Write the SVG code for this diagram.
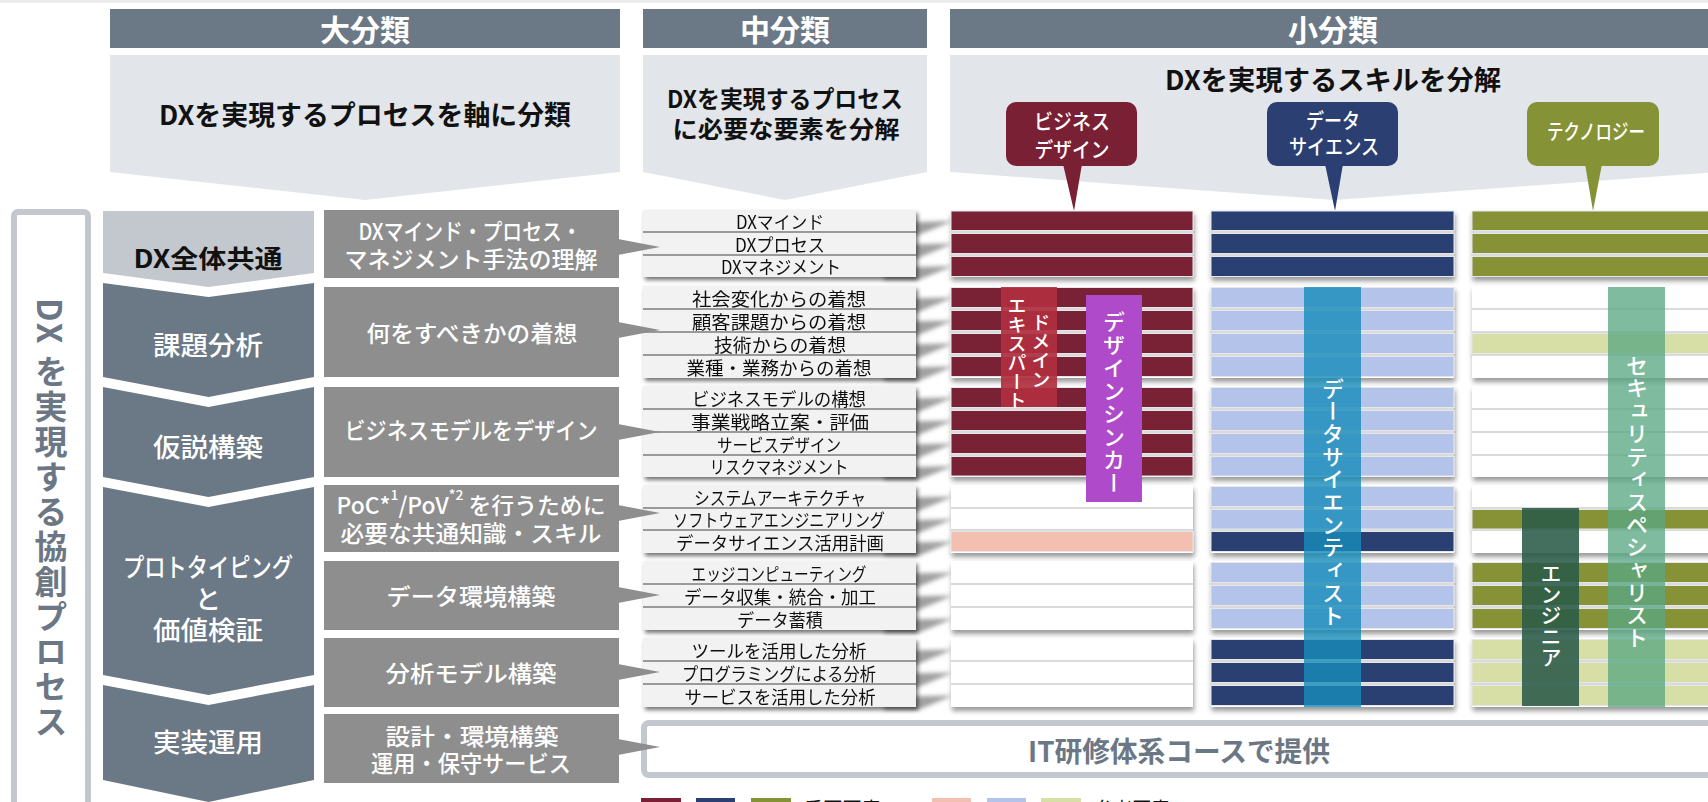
<svg xmlns="http://www.w3.org/2000/svg" width="1708" height="802" viewBox="0 0 1708 802">
<defs>
<style>
text{font-family:"Noto Sans CJK JP","Noto Sans",sans-serif;}
.hd{fill:#6B7886}
.bd{fill:#E2E5E9}
.hdt{font-size:30px;font-weight:bold;fill:#fff;text-anchor:middle;dominant-baseline:central}
.bt{font-size:27px;font-weight:bold;fill:#111;text-anchor:middle;dominant-baseline:central}
.chev{fill:#6B7885}
.lt{font-size:26px;font-weight:500;fill:#fff;text-anchor:middle;dominant-baseline:central}
.mb{fill:#8E8E8E}
.mt{font-size:23px;font-weight:500;fill:#fff;text-anchor:middle;dominant-baseline:central}
.row{fill:#F2F2F2}
.sep{stroke:#9A9A9A;stroke-width:2}
.rt{font-size:18px;fill:#111;text-anchor:middle;dominant-baseline:central}
.gsep{stroke:#B5B5B5;stroke-width:1.2}
.cell{stroke:#E4E6EA;stroke-width:1}
.d1{fill:#7A2035}.l1{fill:#F2BFB0}
.d2{fill:#2B3F72}.l2{fill:#B3C3EA}
.d3{fill:#869236}.l3{fill:#D8DFA6}
.ct{font-size:21px;font-weight:500;fill:#fff;text-anchor:middle;dominant-baseline:central}
.vt{writing-mode:vertical-rl;font-size:22px;font-weight:500;fill:#fff;text-anchor:middle}
.wd{fill:#606060;opacity:.6}
.ptr{fill:#8E8E8E}
</style>
<filter id="shM" x="-5%" y="-10%" width="115%" height="130%"><feDropShadow dx="2" dy="3" stdDeviation="2" flood-color="#000" flood-opacity="0.55"/></filter>
<filter id="shR" x="-5%" y="-10%" width="115%" height="130%"><feDropShadow dx="1" dy="4" stdDeviation="2.5" flood-color="#000" flood-opacity="0.4"/></filter>
<filter id="blur" x="-20%" y="-20%" width="140%" height="140%"><feGaussianBlur stdDeviation="2"/></filter>
</defs>
<rect width="1708" height="802" fill="#fff"/>
<rect width="1708" height="3" fill="#ECECEC"/>

<!-- headers -->
<g id="hdr-dai"><rect class="hd" x="110" y="9" width="510" height="39"/><text class="hdt" x="365" y="28">大分類</text></g>
<g id="hdr-chu"><rect class="hd" x="643" y="9" width="284" height="39"/><text class="hdt" x="785" y="28">中分類</text></g>
<g id="hdr-sho"><rect class="hd" x="950" y="9" width="770" height="39"/><text class="hdt" x="1333" y="28">小分類</text></g>

<g id="body-dai"><path class="bd" d="M110,55 H620 V172 L365,200 L110,172 Z"/><text class="bt" x="365" y="113" textLength="412" lengthAdjust="spacingAndGlyphs">DXを実現するプロセスを軸に分類</text></g>
<g id="body-chu"><path class="bd" d="M643,55 H927 V172 L785,200 L643,172 Z"/><text class="bt" x="785" y="97" style="font-size:24px" textLength="236" lengthAdjust="spacingAndGlyphs">DXを実現するプロセス</text><text class="bt" x="786" y="127" style="font-size:24px" textLength="227" lengthAdjust="spacingAndGlyphs">に必要な要素を分解</text></g>
<g id="body-sho"><path class="bd" d="M950,55 H1720 V172 L1335,200 L950,172 Z"/><text class="bt" x="1333" y="78" textLength="336" lengthAdjust="spacingAndGlyphs">DXを実現するスキルを分解</text></g>

<!-- callouts -->
<g id="callout-bd"><rect x="1006" y="102" width="131" height="64" rx="10" fill="#7A2035"/><polygon points="1063,164 1082,164 1074,211" fill="#7A2035"/><text class="ct" x="1072" y="120" textLength="76" lengthAdjust="spacingAndGlyphs">ビジネス</text><text class="ct" x="1072" y="148" textLength="75" lengthAdjust="spacingAndGlyphs">デザイン</text></g>
<g id="callout-ds"><rect x="1267" y="102" width="131" height="64" rx="10" fill="#2B3F72"/><polygon points="1325,164 1343,164 1335,211" fill="#2B3F72"/><text class="ct" x="1333" y="119" textLength="54" lengthAdjust="spacingAndGlyphs">データ</text><text class="ct" x="1334" y="145" textLength="90" lengthAdjust="spacingAndGlyphs">サイエンス</text></g>
<g id="callout-tech"><rect x="1527" y="102" width="132" height="64" rx="10" fill="#869236"/><polygon points="1585,164 1602,164 1593,211" fill="#869236"/><text class="ct" x="1596" y="130" textLength="98" lengthAdjust="spacingAndGlyphs">テクノロジー</text></g>

<!-- left vertical box -->
<g id="process-label"><rect x="14" y="212" width="74" height="600" rx="4" fill="#fff" stroke="#C3C7CE" stroke-width="6"/><text x="51" y="298" style="writing-mode:vertical-rl;font-size:33px;font-weight:bold;fill:#6B7784;letter-spacing:2px">DX を実現する協創プロセス</text></g>

<!-- chevrons -->
<g id="dai-common"><path d="M103,211 H314 V273 L208.5,287 L103,273 Z" fill="#C3C8CF"/><text class="lt" x="208" y="257" style="fill:#111;font-weight:bold;font-size:25px" textLength="149" lengthAdjust="spacingAndGlyphs">DX全体共通</text></g>
<g id="dai-kadai"><path class="chev" d="M103,283 L208.5,297 L314,283 V377 L208.5,397 L103,377 Z"/><text class="lt" x="208" y="343" textLength="110" lengthAdjust="spacingAndGlyphs">課題分析</text></g>
<g id="dai-kasetsu"><path class="chev" d="M103,387 L208.5,407 L314,387 V477 L208.5,497 L103,477 Z"/><text class="lt" x="208" y="445" textLength="110" lengthAdjust="spacingAndGlyphs">仮説構築</text></g>
<g id="dai-proto"><path class="chev" d="M103,487 L208.5,507 L314,487 V675 L208.5,695 L103,675 Z"/><text class="lt" x="208" y="565" textLength="170" lengthAdjust="spacingAndGlyphs">プロトタイピング</text><text class="lt" x="208" y="597">と</text><text class="lt" x="208" y="628" textLength="110" lengthAdjust="spacingAndGlyphs">価値検証</text></g>
<g id="dai-jisso"><path class="chev" d="M103,685 L208.5,705 L314,685 V780 L208.5,802 L103,780 Z"/><text class="lt" x="208" y="740" textLength="110" lengthAdjust="spacingAndGlyphs">実装運用</text></g>

<!-- mid boxes -->
<g id="chu-1"><rect class="mb" x="324" y="210" width="295" height="68"/><text class="mt" x="470" y="230" textLength="223" lengthAdjust="spacingAndGlyphs">DXマインド・プロセス・</text><text class="mt" x="471" y="258" textLength="253" lengthAdjust="spacingAndGlyphs">マネジメント手法の理解</text></g>
<g id="chu-2"><rect class="mb" x="324" y="287" width="295" height="90"/><text class="mt" x="472" y="332" textLength="211" lengthAdjust="spacingAndGlyphs">何をすべきかの着想</text></g>
<g id="chu-3"><rect class="mb" x="324" y="387" width="295" height="90"/><text class="mt" x="471" y="429" textLength="253" lengthAdjust="spacingAndGlyphs">ビジネスモデルをデザイン</text></g>
<g id="chu-4"><rect class="mb" x="324" y="485" width="295" height="67"/><text class="mt" x="471" y="504" textLength="269" lengthAdjust="spacingAndGlyphs">PoC*<tspan style="font-size:14px" baseline-shift="super">1</tspan>/PoV<tspan style="font-size:14px" baseline-shift="super">*2</tspan> を行うために</text><text class="mt" x="471" y="532" textLength="261" lengthAdjust="spacingAndGlyphs">必要な共通知識・スキル</text></g>
<g id="chu-5"><rect class="mb" x="324" y="561" width="295" height="69"/><text class="mt" x="471" y="595" textLength="169" lengthAdjust="spacingAndGlyphs">データ環境構築</text></g>
<g id="chu-6"><rect class="mb" x="324" y="638" width="295" height="69"/><text class="mt" x="471" y="672" textLength="171" lengthAdjust="spacingAndGlyphs">分析モデル構築</text></g>
<g id="chu-7"><rect class="mb" x="324" y="714" width="295" height="69"/><text class="mt" x="472" y="735" textLength="173" lengthAdjust="spacingAndGlyphs">設計・環境構築</text><text class="mt" x="471" y="762" textLength="200" lengthAdjust="spacingAndGlyphs">運用・保守サービス</text></g>

<!-- connector wedges (under rows) -->
<g id="connectors">
<g filter="url(#blur)">
<polygon class="wd" points="884,223 953,221 918,235 884,235"/>
<polygon class="wd" points="884,245 953,243.5 918,258 884,258"/>
<polygon class="wd" points="884,268 953,266 918,280 884,280"/>
<polygon class="wd" points="884,299 953,297.5 918,312 884,312"/>
<polygon class="wd" points="884,322 953,320.5 918,335 884,335"/>
<polygon class="wd" points="884,345 953,343.5 918,358 884,358"/>
<polygon class="wd" points="884,368 953,366.5 918,381 884,381"/>
<polygon class="wd" points="884,399 953,397.5 918,412 884,412"/>
<polygon class="wd" points="884,422 953,420.5 918,435 884,435"/>
<polygon class="wd" points="884,445 953,443.5 918,458 884,458"/>
<polygon class="wd" points="884,468 953,466 918,480 884,480"/>
<polygon class="wd" points="884,498 953,496.5 918,511 884,511"/>
<polygon class="wd" points="884,521 953,519 918,533 884,533"/>
<polygon class="wd" points="884,543 953,541.5 918,556 884,556"/>
<polygon class="wd" points="884,574 953,572.5 918,587 884,587"/>
<polygon class="wd" points="884,597 953,595.5 918,610 884,610"/>
<polygon class="wd" points="884,620 953,618.5 918,633 884,633"/>
<polygon class="wd" points="884,651 953,649.5 918,664 884,664"/>
<polygon class="wd" points="884,674 953,672.5 918,687 884,687"/>
<polygon class="wd" points="884,697 953,695.5 918,710 884,710"/>
</g>
</g>

<!-- mid item rows -->
<g id="items-g1" filter="url(#shM)"><rect class="row" x="643" y="210" width="273" height="67"/><line class="sep" x1="643" y1="232" x2="916" y2="232"/><line class="sep" x1="643" y1="255" x2="916" y2="255"/>
<text class="rt" x="780" y="221" textLength="88" lengthAdjust="spacingAndGlyphs">DXマインド</text><text class="rt" x="780" y="243.5" textLength="90" lengthAdjust="spacingAndGlyphs">DXプロセス</text><text class="rt" x="781" y="266" textLength="120" lengthAdjust="spacingAndGlyphs">DXマネジメント</text></g>
<g id="items-g2" filter="url(#shM)"><rect class="row" x="643" y="286" width="273" height="92"/><line class="sep" x1="643" y1="309" x2="916" y2="309"/><line class="sep" x1="643" y1="332" x2="916" y2="332"/><line class="sep" x1="643" y1="355" x2="916" y2="355"/>
<text class="rt" x="779" y="297.5" textLength="174" lengthAdjust="spacingAndGlyphs">社会変化からの着想</text><text class="rt" x="779" y="320.5" textLength="174" lengthAdjust="spacingAndGlyphs">顧客課題からの着想</text><text class="rt" x="780" y="343.5" textLength="132" lengthAdjust="spacingAndGlyphs">技術からの着想</text><text class="rt" x="779" y="366.5" textLength="185" lengthAdjust="spacingAndGlyphs">業種・業務からの着想</text></g>
<g id="items-g3" filter="url(#shM)"><rect class="row" x="643" y="386" width="273" height="91"/><line class="sep" x1="643" y1="409" x2="916" y2="409"/><line class="sep" x1="643" y1="432" x2="916" y2="432"/><line class="sep" x1="643" y1="455" x2="916" y2="455"/>
<text class="rt" x="779" y="397.5" textLength="174" lengthAdjust="spacingAndGlyphs">ビジネスモデルの構想</text><text class="rt" x="780" y="420.5" textLength="178" lengthAdjust="spacingAndGlyphs">事業戦略立案・評価</text><text class="rt" x="779" y="443.5" textLength="124" lengthAdjust="spacingAndGlyphs">サービスデザイン</text><text class="rt" x="779" y="466" textLength="139" lengthAdjust="spacingAndGlyphs">リスクマネジメント</text></g>
<g id="items-g4" filter="url(#shM)"><rect class="row" x="643" y="485" width="273" height="68"/><line class="sep" x1="643" y1="508" x2="916" y2="508"/><line class="sep" x1="643" y1="530" x2="916" y2="530"/>
<text class="rt" x="780" y="496.5" textLength="172" lengthAdjust="spacingAndGlyphs">システムアーキテクチャ</text><text class="rt" x="779" y="519" textLength="212" lengthAdjust="spacingAndGlyphs">ソフトウェアエンジニアリング</text><text class="rt" x="780" y="541.5" textLength="208" lengthAdjust="spacingAndGlyphs">データサイエンス活用計画</text></g>
<g id="items-g5" filter="url(#shM)"><rect class="row" x="643" y="561" width="273" height="69"/><line class="sep" x1="643" y1="584" x2="916" y2="584"/><line class="sep" x1="643" y1="607" x2="916" y2="607"/>
<text class="rt" x="779" y="572.5" textLength="175" lengthAdjust="spacingAndGlyphs">エッジコンピューティング</text><text class="rt" x="780" y="595.5" textLength="192" lengthAdjust="spacingAndGlyphs">データ収集・統合・加工</text><text class="rt" x="780" y="618.5" textLength="86" lengthAdjust="spacingAndGlyphs">データ蓄積</text></g>
<g id="items-g6" filter="url(#shM)"><rect class="row" x="643" y="638" width="273" height="69"/><line class="sep" x1="643" y1="661" x2="916" y2="661"/><line class="sep" x1="643" y1="684" x2="916" y2="684"/>
<text class="rt" x="779" y="649.5" textLength="175" lengthAdjust="spacingAndGlyphs">ツールを活用した分析</text><text class="rt" x="779" y="672.5" textLength="194" lengthAdjust="spacingAndGlyphs">プログラミングによる分析</text><text class="rt" x="780" y="695.5" textLength="191" lengthAdjust="spacingAndGlyphs">サービスを活用した分析</text></g>

<!-- pointers from mid boxes -->
<g id="pointers">
<polygon class="ptr" points="618,239 660,247 618,255"/>
<polygon class="ptr" points="618,322 660,330 618,338"/>
<polygon class="ptr" points="618,424 660,432 618,440"/>
<polygon class="ptr" points="618,505 660,513 618,521"/>
<polygon class="ptr" points="618,587 660,595 618,603"/>
<polygon class="ptr" points="618,664 660,672 618,680"/>
</g>

<!-- skill grid: business design -->
<g id="bd-g1" filter="url(#shR)"><rect x="951" y="210" width="242" height="67" fill="#fff"/><line class="gsep" x1="951" y1="232" x2="1193" y2="232"/><line class="gsep" x1="951" y1="255" x2="1193" y2="255"/>
<rect class="cell d1" x="951" y="211" width="242" height="19.5"/><rect class="cell d1" x="951" y="233.5" width="242" height="20"/><rect class="cell d1" x="951" y="256.5" width="242" height="20"/></g>
<g id="bd-g2" filter="url(#shR)"><rect x="951" y="286" width="242" height="92" fill="#fff"/><line class="gsep" x1="951" y1="309" x2="1193" y2="309"/><line class="gsep" x1="951" y1="332" x2="1193" y2="332"/><line class="gsep" x1="951" y1="355" x2="1193" y2="355"/>
<rect class="cell d1" x="951" y="287.5" width="242" height="20"/><rect class="cell d1" x="951" y="310.5" width="242" height="20"/><rect class="cell d1" x="951" y="333.5" width="242" height="20"/><rect class="cell d1" x="951" y="356.5" width="242" height="20"/></g>
<g id="bd-g3" filter="url(#shR)"><rect x="951" y="386" width="242" height="91" fill="#fff"/><line class="gsep" x1="951" y1="409" x2="1193" y2="409"/><line class="gsep" x1="951" y1="432" x2="1193" y2="432"/><line class="gsep" x1="951" y1="455" x2="1193" y2="455"/>
<rect class="cell d1" x="951" y="387.5" width="242" height="20"/><rect class="cell d1" x="951" y="410.5" width="242" height="20"/><rect class="cell d1" x="951" y="433.5" width="242" height="20"/><rect class="cell d1" x="951" y="456.5" width="242" height="19.5"/></g>
<g id="bd-g4" filter="url(#shR)"><rect x="951" y="485" width="242" height="68" fill="#fff"/><line class="gsep" x1="951" y1="508" x2="1193" y2="508"/><line class="gsep" x1="951" y1="530" x2="1193" y2="530"/>
<rect class="cell l1" x="951" y="531.5" width="242" height="20"/></g>
<g id="bd-g5" filter="url(#shR)"><rect x="951" y="561" width="242" height="69" fill="#fff"/><line class="gsep" x1="951" y1="584" x2="1193" y2="584"/><line class="gsep" x1="951" y1="607" x2="1193" y2="607"/></g>
<g id="bd-g6" filter="url(#shR)"><rect x="951" y="638" width="242" height="69" fill="#fff"/><line class="gsep" x1="951" y1="661" x2="1193" y2="661"/><line class="gsep" x1="951" y1="684" x2="1193" y2="684"/></g>

<!-- data science -->
<g id="ds-g1" filter="url(#shR)"><rect x="1211" y="210" width="243" height="67" fill="#fff"/><line class="gsep" x1="1211" y1="232" x2="1454" y2="232"/><line class="gsep" x1="1211" y1="255" x2="1454" y2="255"/>
<rect class="cell d2" x="1211" y="211" width="243" height="19.5"/><rect class="cell d2" x="1211" y="233.5" width="243" height="20"/><rect class="cell d2" x="1211" y="256.5" width="243" height="20"/></g>
<g id="ds-g2" filter="url(#shR)"><rect x="1211" y="286" width="243" height="92" fill="#fff"/><line class="gsep" x1="1211" y1="309" x2="1454" y2="309"/><line class="gsep" x1="1211" y1="332" x2="1454" y2="332"/><line class="gsep" x1="1211" y1="355" x2="1454" y2="355"/>
<rect class="cell l2" x="1211" y="287.5" width="243" height="20"/><rect class="cell l2" x="1211" y="310.5" width="243" height="20"/><rect class="cell l2" x="1211" y="333.5" width="243" height="20"/><rect class="cell l2" x="1211" y="356.5" width="243" height="20"/></g>
<g id="ds-g3" filter="url(#shR)"><rect x="1211" y="386" width="243" height="91" fill="#fff"/><line class="gsep" x1="1211" y1="409" x2="1454" y2="409"/><line class="gsep" x1="1211" y1="432" x2="1454" y2="432"/><line class="gsep" x1="1211" y1="455" x2="1454" y2="455"/>
<rect class="cell l2" x="1211" y="387.5" width="243" height="20"/><rect class="cell l2" x="1211" y="410.5" width="243" height="20"/><rect class="cell l2" x="1211" y="433.5" width="243" height="20"/><rect class="cell l2" x="1211" y="456.5" width="243" height="19.5"/></g>
<g id="ds-g4" filter="url(#shR)"><rect x="1211" y="485" width="243" height="68" fill="#fff"/><line class="gsep" x1="1211" y1="508" x2="1454" y2="508"/><line class="gsep" x1="1211" y1="530" x2="1454" y2="530"/>
<rect class="cell l2" x="1211" y="486.5" width="243" height="20"/><rect class="cell l2" x="1211" y="509.5" width="243" height="19.5"/><rect class="cell d2" x="1211" y="531.5" width="243" height="20"/></g>
<g id="ds-g5" filter="url(#shR)"><rect x="1211" y="561" width="243" height="69" fill="#fff"/><line class="gsep" x1="1211" y1="584" x2="1454" y2="584"/><line class="gsep" x1="1211" y1="607" x2="1454" y2="607"/>
<rect class="cell l2" x="1211" y="562.5" width="243" height="20"/><rect class="cell l2" x="1211" y="585.5" width="243" height="20"/><rect class="cell l2" x="1211" y="608.5" width="243" height="20"/></g>
<g id="ds-g6" filter="url(#shR)"><rect x="1211" y="638" width="243" height="69" fill="#fff"/><line class="gsep" x1="1211" y1="661" x2="1454" y2="661"/><line class="gsep" x1="1211" y1="684" x2="1454" y2="684"/>
<rect class="cell d2" x="1211" y="639.5" width="243" height="20"/><rect class="cell d2" x="1211" y="662.5" width="243" height="20"/><rect class="cell d2" x="1211" y="685.5" width="243" height="20"/></g>

<!-- technology -->
<g id="te-g1" filter="url(#shR)"><rect x="1472" y="210" width="243" height="67" fill="#fff"/><line class="gsep" x1="1472" y1="232" x2="1715" y2="232"/><line class="gsep" x1="1472" y1="255" x2="1715" y2="255"/>
<rect class="cell d3" x="1472" y="211" width="243" height="19.5"/><rect class="cell d3" x="1472" y="233.5" width="243" height="20"/><rect class="cell d3" x="1472" y="256.5" width="243" height="20"/></g>
<g id="te-g2" filter="url(#shR)"><rect x="1472" y="286" width="243" height="92" fill="#fff"/><line class="gsep" x1="1472" y1="309" x2="1715" y2="309"/><line class="gsep" x1="1472" y1="332" x2="1715" y2="332"/><line class="gsep" x1="1472" y1="355" x2="1715" y2="355"/>
<rect class="cell l3" x="1472" y="333.5" width="243" height="20"/></g>
<g id="te-g3" filter="url(#shR)"><rect x="1472" y="386" width="243" height="91" fill="#fff"/><line class="gsep" x1="1472" y1="409" x2="1715" y2="409"/><line class="gsep" x1="1472" y1="432" x2="1715" y2="432"/><line class="gsep" x1="1472" y1="455" x2="1715" y2="455"/></g>
<g id="te-g4" filter="url(#shR)"><rect x="1472" y="485" width="243" height="68" fill="#fff"/><line class="gsep" x1="1472" y1="508" x2="1715" y2="508"/><line class="gsep" x1="1472" y1="530" x2="1715" y2="530"/>
<rect class="cell d3" x="1472" y="509.5" width="243" height="19.5"/></g>
<g id="te-g5" filter="url(#shR)"><rect x="1472" y="561" width="243" height="69" fill="#fff"/><line class="gsep" x1="1472" y1="584" x2="1715" y2="584"/><line class="gsep" x1="1472" y1="607" x2="1715" y2="607"/>
<rect class="cell d3" x="1472" y="562.5" width="243" height="20"/><rect class="cell d3" x="1472" y="585.5" width="243" height="20"/><rect class="cell d3" x="1472" y="608.5" width="243" height="20"/></g>
<g id="te-g6" filter="url(#shR)"><rect x="1472" y="638" width="243" height="69" fill="#fff"/><line class="gsep" x1="1472" y1="661" x2="1715" y2="661"/><line class="gsep" x1="1472" y1="684" x2="1715" y2="684"/>
<rect class="cell l3" x="1472" y="639.5" width="243" height="20"/><rect class="cell l3" x="1472" y="662.5" width="243" height="20"/><rect class="cell l3" x="1472" y="685.5" width="243" height="20"/></g>

<!-- role overlays -->
<g id="role-domain"><rect x="1001" y="287" width="56" height="120" fill="#B0303F" opacity="0.92"/><text class="vt" x="1041" y="351" style="font-size:19px">ドメイン</text><text class="vt" x="1017" y="353" style="font-size:19px">エキスパート</text></g>
<g id="role-design"><rect x="1086" y="295" width="56" height="207" fill="#AF4BCA"/><text class="vt" x="1114" y="403" style="letter-spacing:1px">デザインシンカー</text></g>
<g id="role-ds"><rect x="1304" y="287" width="57" height="420" fill="#168CBA" opacity="0.8"/><text class="vt" x="1333" y="502" style="letter-spacing:0.7px">データサイエンティスト</text></g>
<g id="role-eng"><rect x="1522" y="508" width="57" height="198" fill="#2A5A48" opacity="0.88"/><text class="vt" x="1551" y="615" style="font-size:21px">エンジニア</text></g>
<g id="role-sec"><rect x="1608" y="287" width="57" height="420" fill="#5BA883" opacity="0.78"/><text class="vt" x="1637" y="502" style="letter-spacing:0.7px">セキュリティスペシャリスト</text></g>

<!-- IT course box -->
<g id="it-course"><rect x="644" y="723" width="1070" height="52" rx="5" fill="#fff" stroke="#C3C7CE" stroke-width="6"/><text x="1179" y="750" style="font-size:28px;font-weight:bold;fill:#6B7784;text-anchor:middle;dominant-baseline:central" textLength="302" lengthAdjust="spacingAndGlyphs">IT研修体系コースで提供</text></g>
<polygon class="ptr" points="618,739 660,747 618,755"/>

<!-- legend -->
<g id="legend">
<rect class="d1" x="641" y="798" width="40" height="22"/><rect class="d2" x="696" y="798" width="39" height="22"/><rect class="d3" x="751" y="798" width="40" height="22"/>
<text x="804" y="819" style="font-size:23px;fill:#111" textLength="77" lengthAdjust="spacingAndGlyphs">重要要素</text>
<rect class="l1" x="932" y="798" width="39" height="22"/><rect class="l2" x="987" y="798" width="39" height="22"/><rect class="l3" x="1041" y="798" width="40" height="22"/>
<text x="1095" y="819" style="font-size:23px;fill:#111" textLength="75" lengthAdjust="spacingAndGlyphs">参考要素</text>
</g>
</svg>
